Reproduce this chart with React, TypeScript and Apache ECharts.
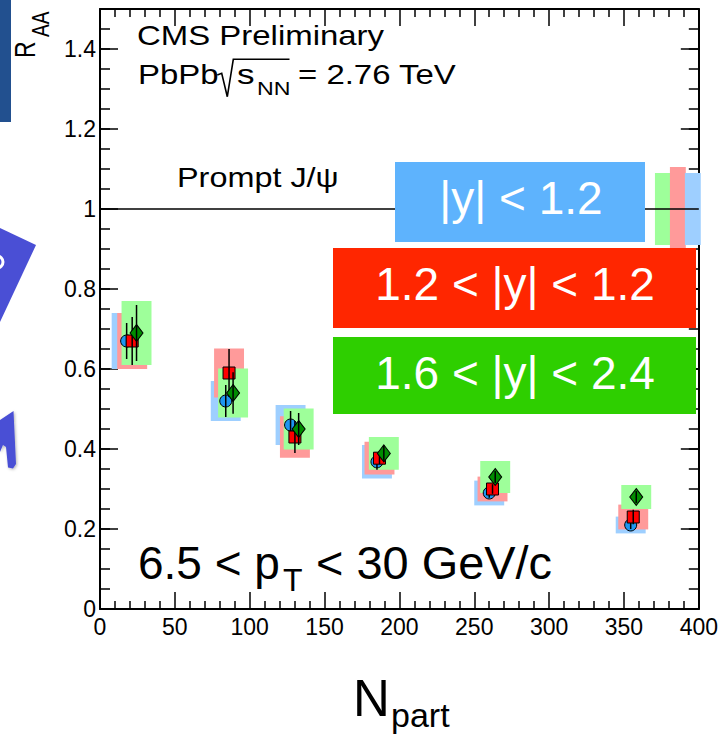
import React, { useEffect, useRef } from "react";
import * as echarts from "echarts";

// Prompt J/psi nuclear modification factor vs. number of participants,
// three rapidity bins. Values: [Npart, R_AA, stat. error, syst. error].
const nPartMid = [17.8, 84.0, 127.3, 185.0, 260.0, 354.5];
const raaMid = [0.67, 0.52, 0.46, 0.368, 0.29, 0.21];
const statMid = [0.045, 0.04, 0.035, 0.02, 0.012, 0.01];
const systMid = [0.07, 0.05, 0.05, 0.042, 0.031, 0.021];

const nPartInt = [21.5, 86.2, 130.2, 186.7, 262.2, 356.2];
const raaInt = [0.67, 0.59, 0.43, 0.377, 0.3, 0.23];
const statInt = [0.06, 0.06, 0.04, 0.015, 0.012, 0.018];
const systInt = [0.07, 0.061, 0.052, 0.041, 0.031, 0.031];

const nPartFwd = [24.4, 88.9, 132.7, 189.6, 264.0, 358.2];
const raaFwd = [0.69, 0.54, 0.45, 0.389, 0.33, 0.28];
const statFwd = [0.07, 0.052, 0.04, 0.02, 0.015, 0.015];
const systFwd = [0.08, 0.061, 0.051, 0.041, 0.04, 0.03];

// Global (normalisation) uncertainties drawn at R_AA = 1
const globalNpart = [376, 386, 396]; // forward, intermediate, mid
const globalUnc = [0.09, 0.105, 0.09];

const legendLabels = ["|y| < 1.2", "1.2 < |y| < 1.2", "1.6 < |y| < 2.4"];

const FONT = '"Liberation Sans", Arial, Helvetica, sans-serif';

const C_MID = "#1E96F0";
const C_INT = "#FF0000";
const C_FWD = "#008C00";
const BOX_MID = "#9ECFFF";
const BOX_INT = "#FF9A9A";
const BOX_FWD = "#9EFF9A";

const BOX_HALF = 10;
const GLOBAL_HALF = 5.3;

function boxSeries(name: string, xs: number[], ys: number[], errs: number[], color: string, half: number, z: number) {
  return {
    name,
    type: "custom",
    z,
    silent: true,
    data: xs.map((x, i) => [x, ys[i], errs[i]]),
    renderItem: (_p: any, api: any) => {
      const x = api.value(0);
      const y = api.value(1);
      const e = api.value(2);
      const a = api.coord([x - half, y + e]);
      const b = api.coord([x + half, y - e]);
      return {
        type: "rect",
        shape: { x: a[0], y: a[1], width: b[0] - a[0], height: b[1] - a[1] },
        style: { fill: color },
      };
    },
  };
}

function errSeries(name: string, xs: number[], ys: number[], errs: number[], z: number) {
  return {
    name,
    type: "custom",
    z,
    silent: true,
    data: xs.map((x, i) => [x, ys[i], errs[i]]),
    renderItem: (_p: any, api: any) => {
      const x = api.value(0);
      const y = api.value(1);
      const e = api.value(2);
      const a = api.coord([x, y + e]);
      const b = api.coord([x, y - e]);
      return {
        type: "line",
        shape: { x1: a[0], y1: a[1], x2: b[0], y2: b[1] },
        style: { stroke: "#000", lineWidth: 1.5 },
      };
    },
  };
}

function markerSeries(name: string, xs: number[], ys: number[], symbol: string, size: any, color: string, z: number) {
  return {
    name,
    type: "scatter",
    z,
    silent: true,
    symbol,
    symbolSize: size,
    data: xs.map((x, i) => [x, ys[i]]),
    itemStyle: { color, borderColor: "#000", borderWidth: 1, opacity: 1 },
  };
}

function txt(text: string, x: number, y: number, size: number, o: any = {}) {
  const align = o.align ?? "left";
  return {
    type: "text",
    x,
    y,
    z: 100,
    rotation: o.rotation ?? 0,
    scaleX: o.sx ?? 1,
    scaleY: o.sy ?? 1,
    style: {
      text,
      fontSize: size,
      fontFamily: FONT,
      fill: o.fill ?? "#000",
      align,
      textAlign: align,
      verticalAlign: "middle",
      textVerticalAlign: "middle",
    },
  };
}

const tickStyle = { color: "#000", width: 1.5 };

function xAxisDef(position: string, labels: boolean) {
  return {
    type: "value",
    position,
    min: 0,
    max: 400,
    interval: 50,
    axisLine: { show: true, onZero: false, lineStyle: { color: "#000", width: 2 } },
    axisTick: { show: true, inside: true, length: 17, lineStyle: tickStyle },
    minorTick: { show: true, splitNumber: 5, length: 8, lineStyle: tickStyle },
    splitLine: { show: false },
    axisLabel: { show: labels, fontSize: 23, color: "#000", fontFamily: FONT, margin: 6 },
  };
}

function yAxisDef(position: string, interval: number, tickLen: number, line: boolean, labels: boolean) {
  return {
    type: "value",
    position,
    min: 0,
    max: 1.5,
    interval,
    axisLine: { show: line, onZero: false, lineStyle: { color: "#000", width: 2 } },
    axisTick: { show: true, inside: true, length: tickLen, lineStyle: tickStyle },
    splitLine: { show: false },
    axisLabel: {
      show: labels,
      showMaxLabel: false,
      fontSize: 23,
      color: "#000",
      fontFamily: FONT,
      margin: 4,
    },
  };
}

const option = {
  animation: false,
  backgroundColor: "#fff",
  grid: { left: 100, right: 20, top: 9, bottom: 126, containLabel: false },
  xAxis: [xAxisDef("bottom", true), xAxisDef("top", false)],
  yAxis: [
    yAxisDef("left", 0.2, 18, true, true),
    yAxisDef("left", 0.05, 10, false, false),
    yAxisDef("right", 0.2, 18, true, false),
    yAxisDef("right", 0.05, 10, false, false),
  ],
  series: [
    boxSeries("syst mid", nPartMid, raaMid, systMid, BOX_MID, BOX_HALF, 2),
    boxSeries("syst int", nPartInt, raaInt, systInt, BOX_INT, BOX_HALF, 2),
    boxSeries("syst fwd", nPartFwd, raaFwd, systFwd, BOX_FWD, BOX_HALF, 2),
    boxSeries("global fwd", [globalNpart[0]], [1], [globalUnc[0]], BOX_FWD, GLOBAL_HALF, 2),
    boxSeries("global int", [globalNpart[1]], [1], [globalUnc[1]], BOX_INT, GLOBAL_HALF, 2),
    boxSeries("global mid", [globalNpart[2]], [1], [globalUnc[2]], BOX_MID, GLOBAL_HALF, 2),
    {
      name: "unity",
      type: "line",
      z: 3,
      silent: true,
      symbol: "none",
      data: [
        [0, 1],
        [400, 1],
      ],
      lineStyle: { color: "#000", width: 1.5 },
    },
    markerSeries("mid", nPartMid, raaMid, "circle", 12, C_MID, 4),
    errSeries("stat mid", nPartMid, raaMid, statMid, 5),
    markerSeries("int", nPartInt, raaInt, "rect", 12, C_INT, 6),
    errSeries("stat int", nPartInt, raaInt, statInt, 7),
    markerSeries("fwd", nPartFwd, raaFwd, "diamond", [13, 17], C_FWD, 8),
    errSeries("stat fwd", nPartFwd, raaFwd, statFwd, 9),
  ],
  graphic: [
    // slide decorations on the left edge
    { type: "rect", z: 100, shape: { x: 0, y: 0, width: 11, height: 122 }, style: { fill: "#22508F" } },
    {
      type: "polygon",
      z: 100,
      shape: { points: [[0, 228], [36, 245], [0, 322]] },
      style: { fill: "#4A4FD5" },
    },
    {
      type: "arc",
      z: 101,
      shape: { cx: -3, cy: 262, r: 6, startAngle: -Math.PI / 2, endAngle: Math.PI / 2 },
      style: { stroke: "#fff", lineWidth: 3, fill: null },
    },
    {
      type: "polygon",
      z: 100,
      shape: { points: [[0, 420], [13.5, 411], [16, 464], [13, 468.5], [8, 467.5], [6, 447], [3, 445], [0, 452]] },
      style: { fill: "#4A4FD5", shadowBlur: 3, shadowColor: "rgba(0,0,0,0.3)", shadowOffsetX: 1, shadowOffsetY: 1 },
    },

    // axis titles
    txt("R", 25, 58, 23, { rotation: Math.PI / 2, sy: 1.25 }),
    txt("AA", 41, 37, 19, { rotation: Math.PI / 2, sy: 1.25 }),
    txt("N", 353, 698, 51),
    txt("part", 391, 715, 34),

    // header texts
    txt("CMS Preliminary", 137, 36, 27, { sx: 1.22 }),
    txt("PbPb", 138, 75, 27, { sx: 1.22 }),
    {
      type: "polyline",
      z: 100,
      shape: { points: [[217.3, 75], [221.7, 73.3], [227.3, 96.7], [233.3, 59.3], [289.5, 59.3]] },
      style: { stroke: "#000", lineWidth: 1.6, fill: null },
    },
    txt("s", 237, 75, 27, { sx: 1.3 }),
    txt("NN", 257, 88.5, 19, { sx: 1.22 }),
    txt("= 2.76 TeV", 298, 75, 27, { sx: 1.22 }),
    txt("Prompt J/\u03c8", 177, 177, 27, { sx: 1.2 }),

    // kinematic range
    txt("6.5 < p", 138, 563, 46),
    txt("T", 283, 580, 32),
    txt("< 30 GeV/c", 316, 563, 46, { sx: 1.02 }),

    // rapidity legend boxes
    { type: "rect", z: 100, shape: { x: 395, y: 162, width: 250, height: 80 }, style: { fill: "#5EB3FD" } },
    txt(legendLabels[0], 521, 198, 46, { align: "center", fill: "#fff" }),
    { type: "rect", z: 100, shape: { x: 333, y: 248, width: 363, height: 80 }, style: { fill: "#FF2600" } },
    txt(legendLabels[1], 515, 284, 46, { align: "center", fill: "#fff" }),
    { type: "rect", z: 100, shape: { x: 333, y: 337, width: 363, height: 77 }, style: { fill: "#2ECF00" } },
    txt(legendLabels[2], 515, 373, 46, { align: "center", fill: "#fff" }),
  ],
};

export default function App() {
  const ref = useRef<HTMLDivElement>(null);
  useEffect(() => {
    const chart = echarts.init(ref.current as HTMLDivElement, null, { renderer: "svg" });
    chart.setOption(option as any);
    return () => chart.dispose();
  }, []);
  return (
    <div
      ref={ref}
      style={{ position: "fixed", left: 0, top: 0, width: 721, height: 735, background: "#fff" }}
    />
  );
}
